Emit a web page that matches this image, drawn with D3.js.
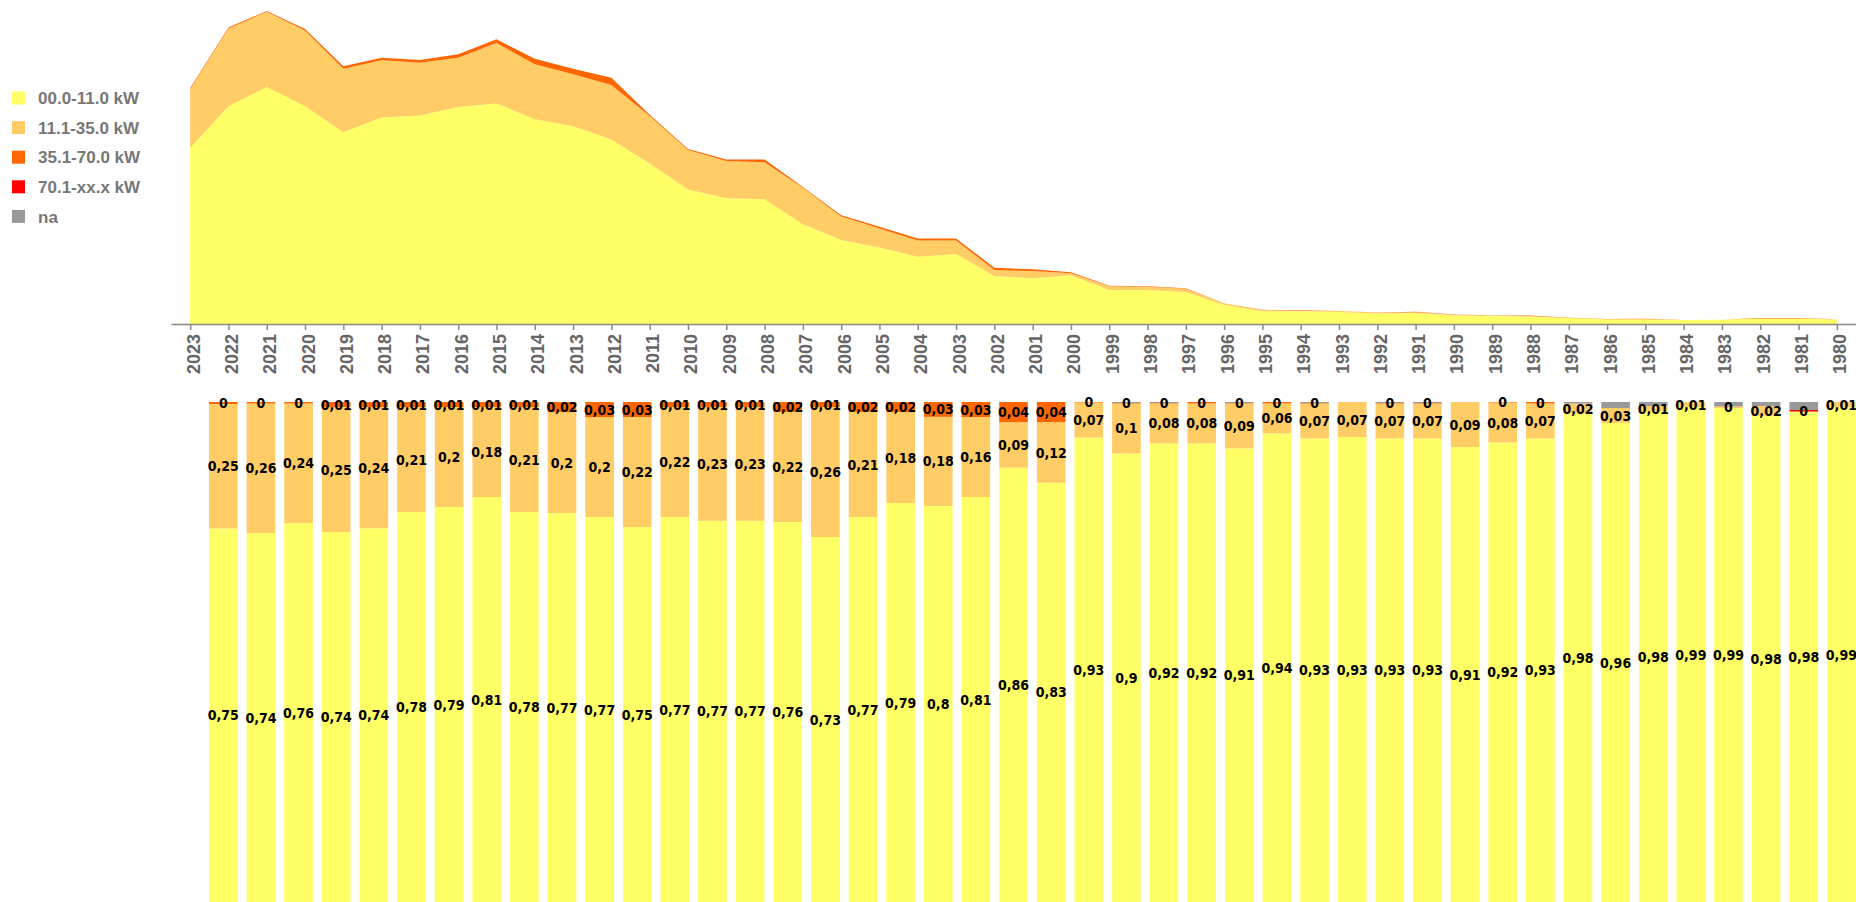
<!DOCTYPE html>
<html>
<head>
<meta charset="utf-8">
<script src="https://cdn.jsdelivr.net/npm/d3@7"></script>
<style>
  html, body { margin: 0; padding: 0; background: #fff; }
  svg { display: block; }
  .axis .tick text { font-family: "Liberation Sans", Arial, sans-serif; font-weight: bold; font-size: 18px; fill: #666; }
  .seg-label { font-family: "DejaVu Sans Condensed", "DejaVu Sans", sans-serif; font-stretch: condensed; font-weight: bold; font-size: 14px; fill: #000; }
  .legend text { font-family: "Liberation Sans", Arial, sans-serif; font-weight: bold; font-size: 17px; fill: #777; }
</style>
</head>
<body>
<svg id="chart"></svg>
<script>
// ── DATA ────────────────────────────────────────────────────────────────
const years = [2023, 2022, 2021, 2020, 2019, 2018, 2017, 2016, 2015, 2014, 2013, 2012, 2011, 2010, 2009,
  2008, 2007, 2006, 2005, 2004, 2003, 2002, 2001, 2000, 1999, 1998, 1997, 1996, 1995,
  1994, 1993, 1992, 1991, 1990, 1989, 1988, 1987, 1986, 1985, 1984, 1983, 1982, 1981, 1980];

const classLabels = ["00.0-11.0 kW", "11.1-35.0 kW", "35.1-70.0 kW", "70.1-xx.x kW", "na"];

// absolute counts (no scale in the picture, arbitrary units)
const area00_11 = [176.3, 218, 237.3, 218, 192, 206.7, 208.7, 217.3, 220.7, 205, 198, 184.7, 160.7, 134.7, 126,
  125, 100, 84, 76.7, 67.3, 70, 48, 45.7, 48.7, 34, 34, 32, 19, 12.7,
  12.7, 12, 10.5, 11, 8.5, 8, 7.4, 6, 4.7, 4.8, 3.9, 4.2, 5.5, 5.5, 4.6];
const area11_35 = [59, 78, 75.4, 76, 63.7, 57.3, 53, 49.4, 60.6, 55, 52, 54.6, 47.6, 39.6, 37.3,
  37, 36.3, 23.7, 19, 16.4, 13.7, 6, 7.3, 2, 3.7, 3.3, 3.3, 1.7, 1.3,
  0.9, 0.9, 0.8, 0.8, 0.8, 0.7, 0.6, 0.1, 0.15, 0.05, 0.04, 0, 0.1, 0, 0.05];
const area35_70 = [1, 1, 0.7, 1.3, 2.5, 2.7, 2.7, 3.3, 3.7, 5.7, 5.7, 7.3, 1.3, 1, 1.3,
  2.7, 1, 1.3, 1.7, 2, 2, 2.3, 1.7, 1, 0.5, 0.4, 0.4, 0.2, 0.2,
  0.3, 0.1, 0.1, 0.4, 0.1, 0.1, 0.4, 0.1, 0.1, 0.4, 0.1, 0.1, 0.4, 0.4, 0.1];
const area70up = [0, 0, 0, 0, 0, 0, 0, 0, 0, 0, 0, 0, 0, 0, 0,
  0, 0, 0, 0, 0, 0, 0, 0, 0, 0, 0, 0, 0, 0,
  0, 0, 0, 0, 0, 0, 0, 0, 0, 0, 0, 0, 0, 0.05, 0];
const areaNa = [0, 0, 0, 0, 0, 0, 0, 0, 0, 0, 0, 0, 0, 0, 0,
  0, 0, 0, 0, 0, 0, 0, 0, 0, 0, 0, 0, 0, 0,
  0, 0, 0, 0, 0, 0, 0, 0.02, 0.08, 0.04, 0, 0.04, 0.05, 0.09, 0];

// shares per year (bar chart)
const share00_11 = [0.75, 0.74, 0.76, 0.74, 0.74, 0.78, 0.79, 0.81, 0.78, 0.77, 0.77, 0.75, 0.77, 0.77, 0.77,
  0.76, 0.73, 0.77, 0.79, 0.80, 0.81, 0.86, 0.83, 0.93, 0.90, 0.92, 0.92, 0.91, 0.94,
  0.93, 0.93, 0.93, 0.93, 0.91, 0.92, 0.93, 0.98, 0.96, 0.98, 0.99, 0.99, 0.98, 0.98, 0.99];
const share11_35 = [0.25, 0.26, 0.24, 0.25, 0.24, 0.21, 0.20, 0.18, 0.21, 0.20, 0.20, 0.22, 0.22, 0.23, 0.23,
  0.22, 0.26, 0.21, 0.18, 0.18, 0.16, 0.09, 0.12, 0.07, 0.10, 0.08, 0.08, 0.09, 0.06,
  0.07, 0.07, 0.07, 0.07, 0.09, 0.08, 0.07, 0.02, 0.03, 0.01, 0.01, 0.003, 0.02, 0, 0.01];
const share35_70 = [0.004, 0.003, 0.003, 0.01, 0.01, 0.01, 0.01, 0.01, 0.01, 0.02, 0.03, 0.03, 0.01, 0.01, 0.01,
  0.02, 0.01, 0.02, 0.02, 0.03, 0.03, 0.04, 0.04, 0.001, 0.001, 0.001, 0.003, 0.001, 0.003,
  0.001, 0, 0.001, 0.001, 0, 0.001, 0.003, 0, 0, 0, 0, 0, 0, 0, 0];
const share70up = [0, 0, 0, 0, 0, 0, 0, 0, 0, 0, 0, 0, 0, 0, 0,
  0, 0, 0, 0, 0, 0, 0, 0, 0, 0, 0, 0, 0, 0,
  0, 0, 0, 0, 0, 0, 0, 0, 0, 0, 0, 0, 0, 0.003, 0];
const shareNa = [0, 0, 0, 0, 0, 0, 0, 0, 0, 0, 0, 0, 0, 0, 0,
  0, 0, 0, 0, 0, 0, 0, 0, 0, 0.002, 0.002, 0, 0.002, 0,
  0.002, 0, 0.002, 0.002, 0, 0, 0, 0.003, 0.012, 0.008, 0, 0.009, 0.008, 0.016, 0];

// ── CONFIG & COLOR ────────────────────────────────────────────────────────
const KEYS = ["c11", "c35", "c70", "c70up", "na"];
const COLORS = ["#ffff66", "#ffcc66", "#ff6600", "#ff0000", "#999999"];

const W = 1856, H = 902;
const svg = d3.select("#chart").attr("width", W).attr("height", H);

const color = d3.scaleOrdinal().domain(KEYS).range(COLORS);

// ── TOP: STACKED AREA ─────────────────────────────────────────────────────
const areaRows = years.map((y, i) => ({
  year: y, c11: area00_11[i], c35: area11_35[i], c70: area35_70[i], c70up: area70up[i], na: areaNa[i]
}));
const areaStack = d3.stack().keys(KEYS)(areaRows);

const xArea = d3.scalePoint().domain(years).range([171, 1856]).padding(0.5);
const maxTotal = d3.max(areaStack[areaStack.length - 1], d => d[1]);
const yArea = d3.scaleLinear().domain([0, maxTotal]).range([324, 11]);

const area = d3.area()
  .x(d => xArea(d.data.year))
  .y0(d => yArea(d[0]))
  .y1(d => yArea(d[1]));

svg.append("g").selectAll("path")
  .data(areaStack)
  .join("path")
    .attr("fill", d => color(d.key))
    .attr("d", area);

const axis = svg.append("g")
  .attr("class", "axis")
  .attr("transform", "translate(0,324)")
  .call(d3.axisBottom(xArea).tickSize(6).tickSizeOuter(0));
axis.select(".domain").attr("stroke", "#888").attr("stroke-width", 1.5);
axis.selectAll(".tick line").attr("stroke", "#888").attr("stroke-width", 1.5);
axis.selectAll(".tick text")
  .attr("transform", "rotate(-90)")
  .attr("text-anchor", "end")
  .attr("x", -10)
  .attr("y", 0)
  .attr("dy", "0.5em");

// ── BOTTOM: 100% STACKED BARS ─────────────────────────────────────────────
const barRows = years.map((y, i) => ({
  year: y, c11: share00_11[i], c35: share11_35[i], c70: share35_70[i], c70up: share70up[i], na: shareNa[i]
}));
const barStack = d3.stack().keys(KEYS).offset(d3.stackOffsetExpand)(barRows);

const xBar = d3.scaleBand().domain(years).range([204.5, 1860.2]).paddingInner(0.24).paddingOuter(0.12);
const yBar = d3.scaleLinear().domain([0, 1]).range([902, 402]);

svg.append("g").selectAll("g")
  .data(barStack)
  .join("g")
    .attr("fill", d => color(d.key))
  .selectAll("rect")
  .data(d => d)
  .join("rect")
    .attr("x", d => xBar(d.data.year))
    .attr("width", xBar.bandwidth())
    .attr("y", d => yBar(d[1]))
    .attr("height", d => yBar(d[0]) - yBar(d[1]));

const fmt = v => String(+v.toFixed(2)).replace(".", ",");

// labels for every class except "na"
const labelData = [];
barStack.filter(s => s.key !== "na").forEach(s => {
  s.forEach(d => {
    const v = d.data[s.key];
    if (v > 0) labelData.push({ year: d.data.year, v, mid: (d[0] + d[1]) / 2 });
  });
});

svg.append("g").selectAll("text")
  .data(labelData)
  .join("text")
    .attr("class", "seg-label")
    .attr("x", d => xBar(d.year) + xBar.bandwidth() / 2)
    .attr("y", d => yBar(d.mid))
    .attr("dy", "0.36em")
    .attr("text-anchor", "middle")
    .text(d => fmt(d.v));

// ── LEGEND ───────────────────────────────────────────────────────────────
const legend = svg.append("g").attr("class", "legend");
const item = legend.selectAll("g")
  .data(KEYS)
  .join("g")
    .attr("transform", (d, i) => `translate(12,${98 + i * 29.6})`);
item.append("rect")
  .attr("y", -6.5)
  .attr("width", 13)
  .attr("height", 13)
  .attr("fill", d => color(d));
item.append("text")
  .attr("x", 26)
  .attr("dy", "0.36em")
  .text((d, i) => classLabels[i]);
</script>
</body>
</html>
